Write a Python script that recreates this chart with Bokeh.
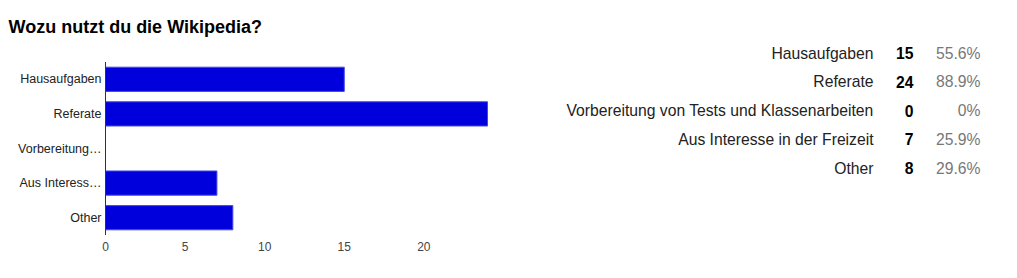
from bokeh.plotting import figure
from bokeh.models import ColumnDataSource, Range1d, FixedTicker
from bokeh.embed import file_html
from bokeh.resources import INLINE
from bokeh.core.properties import value

title = "Wozu nutzt du die Wikipedia?"
categories = ["Hausaufgaben", "Referate", "Vorbereitung von Tests und Klassenarbeiten",
              "Aus Interesse in der Freizeit", "Other"]
axis_labels = ["Hausaufgaben", "Referate", "Vorbereitung…", "Aus Interess…", "Other"]
counts = [15, 24, 0, 7, 8]
percents = [55.6, 88.9, 0, 25.9, 29.6]
x_ticks = [0, 5, 10, 15, 20]
x_max = 24

FONT = "Liberation Sans"

# layout constants (page pixels)
W, H = 1017, 278
FB = 235                        # bottom of the drawing frame (x-axis labels below it)
X0_PX, XMAX_PX = 105, 487       # where value 0 and value x_max sit
BAR_C0, BAR_P = 78.8, 34.6      # first bar centre / bar pitch
ROW0, ROWH = 52.7, 28.75        # summary table first row centre / row pitch
COL_LABEL, COL_COUNT, COL_PCT = 873, 913, 980
TITLE_X, TITLE_BASE = 8, 26

n = len(categories)
rows = list(range(n))
src = ColumnDataSource(dict(
    cat=categories,
    axis_cat=axis_labels,
    row=rows,
    count=counts,
    count_txt=[str(c) for c in counts],
    pct_txt=[f"{v:g}%" for v in percents],
))

ppu = (XMAX_PX - X0_PX) / x_max
p = figure(width=W, height=H,
           x_range=Range1d(-X0_PX / ppu, (W - X0_PX) / ppu),
           y_range=Range1d((FB - BAR_C0) / BAR_P, -BAR_C0 / BAR_P),
           y_axis_location=None, output_backend="svg", toolbar_location=None,
           min_border_left=0, min_border_right=0, min_border_top=0,
           min_border_bottom=H - FB)
p.extra_x_ranges = {"px": Range1d(0, W)}
p.extra_y_ranges = {"py": Range1d(FB, 0),
                    "table": Range1d((FB - ROW0) / ROWH, -ROW0 / ROWH)}
p.grid.visible = False
p.outline_line_color = None

# bars
p.hbar(y="row", left=0, right="count", height=0.7, source=src,
       fill_color="#0000dc", line_color="#4646e4", line_width=1)

# vertical axis line and category labels
p.segment(x0=0, y0=-0.5, x1=0, y1=n - 0.5, line_color="#333333", line_width=1)
p.text(x=0, y="row", text="axis_cat", source=src, x_offset=-4,
       text_font=value(FONT), text_font_size="12.5px", text_color="#222222",
       text_align="right", text_baseline="middle")

# horizontal value axis
p.xaxis.ticker = FixedTicker(ticks=x_ticks)
p.xaxis.axis_line_color = None
p.xaxis.major_tick_line_color = None
p.xaxis.minor_tick_line_color = None
p.xaxis.major_tick_out = 0
p.xaxis.major_tick_in = 0
p.xaxis.major_label_standoff = 6
p.xaxis.major_label_text_font = FONT
p.xaxis.major_label_text_font_size = "12px"
p.xaxis.major_label_text_color = "#444444"

# title
p.text(x=[TITLE_X], y=[TITLE_BASE], text=[title], x_range_name="px", y_range_name="py",
       text_font=value(FONT), text_font_size="18px", text_font_style="bold",
       text_color="#000000", text_align="left", text_baseline="alphabetic")

# summary table
common = dict(y="row", source=src, x_range_name="px", y_range_name="table",
              text_font=value(FONT), text_font_size="15.7px", text_align="right",
              text_baseline="middle")
p.text(x=COL_LABEL, text="cat", text_color="#222222", **common)
p.text(x=COL_COUNT, text="count_txt", text_color="#000000", text_font_style="bold",
       **common)
p.text(x=COL_PCT, text="pct_txt", text_color="#777777", **common)

open("out.html", "w").write(file_html(p, INLINE))
